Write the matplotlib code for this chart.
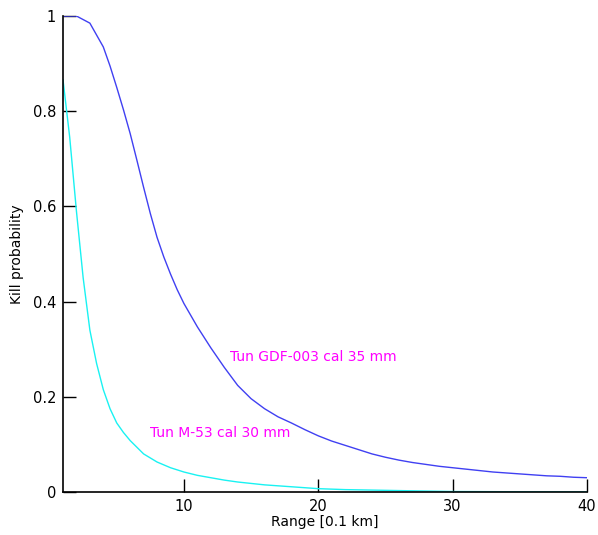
import matplotlib
matplotlib.use("Agg")
import matplotlib.pyplot as plt
import numpy as np

# Data
range_gdf = [1, 2, 3, 4, 4.5, 5, 5.5, 6, 6.5, 7, 7.5, 8, 8.5, 9, 9.5, 10,
             11, 12, 13, 14, 15, 16, 17, 18, 19, 20,
             21, 22, 23, 24, 25, 26, 27, 28, 29, 30,
             31, 32, 33, 34, 35, 36, 37, 38, 39, 40]
kill_gdf = [1.0, 1.0, 0.985, 0.935, 0.895, 0.85, 0.803, 0.753, 0.697, 0.64, 0.585, 0.535,
            0.494, 0.458, 0.425, 0.396,
            0.347, 0.303, 0.262, 0.224, 0.196, 0.175, 0.158, 0.145, 0.131, 0.118,
            0.107, 0.098, 0.089, 0.080, 0.073, 0.067, 0.062, 0.058, 0.054, 0.051,
            0.048, 0.045, 0.042, 0.040, 0.038, 0.036, 0.034, 0.033, 0.031, 0.030]

range_m53 = [1, 1.5, 2, 2.5, 3, 3.5, 4, 4.5, 5, 5.5, 6, 7, 8, 9, 10, 11, 12, 13, 14,
             15, 16, 17, 18, 19, 20, 22, 24, 26, 28, 30, 35, 40]
kill_m53 = [0.866, 0.745, 0.59, 0.45, 0.34, 0.27, 0.215, 0.175, 0.145, 0.125, 0.108,
            0.080, 0.063, 0.051, 0.042, 0.035, 0.030, 0.025, 0.021, 0.018, 0.015,
            0.013, 0.011, 0.009, 0.007, 0.005, 0.004, 0.003, 0.002, 0.001, 0.0005, 0.0003]

label_gdf = "Tun GDF-003 cal 35 mm"
label_m53 = "Tun M-53 cal 30 mm"
x_ticks = [10, 20, 30, 40]
y_ticks = [0, 0.2, 0.4, 0.6, 0.8, 1]
y_ticklabels = ["0", "0.2", "0.4", "0.6", "0.8", "1"]

fig = plt.figure(figsize=(5.98, 5.35), dpi=100)
ax = fig.add_axes([63/598, 43/535, 524/598, 476/535])

ax.plot(range_m53, kill_m53, color="#19f2f2", lw=1.0)
ax.plot(range_gdf, kill_gdf, color="#4040f2", lw=1.0)

ax.set_xlim(1, 40)
ax.set_ylim(0, 1)
ax.set_xticks(x_ticks)
ax.set_yticks(y_ticks)
ax.set_yticklabels(y_ticklabels)
ax.tick_params(direction="in", length=9.4, width=1.0, labelsize=10.5, pad=5)

for s in ["top", "right"]:
    ax.spines[s].set_visible(False)
for s in ["left", "bottom"]:
    ax.spines[s].set_linewidth(1.2)

ax.set_xlabel("Range [0.1 km]", fontsize=10, labelpad=1)
ax.set_ylabel("Kill probability", fontsize=10, labelpad=6)

ax.text(13.4, 0.284, label_gdf, color="#ff00ff", fontsize=10, va="center", ha="left")
ax.text(7.5, 0.124, label_m53, color="#ff00ff", fontsize=10, va="center", ha="left")

fig.savefig("out.png", dpi=100, facecolor="white")
